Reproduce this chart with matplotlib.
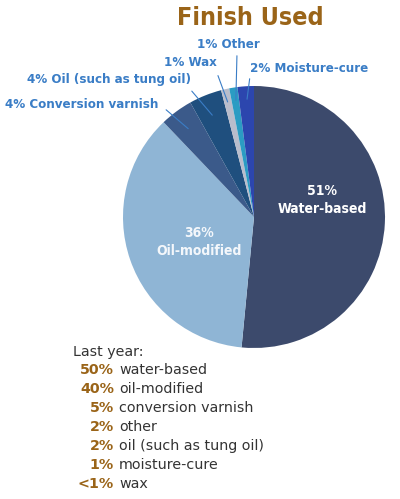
import numpy as np
import matplotlib
matplotlib.use("Agg")
from matplotlib import pyplot as plt

# data
names = ["Water-based", "Oil-modified", "Conversion varnish", "Oil (such as tung oil)",
         "Wax", "Other", "Moisture-cure"]
shares = [51, 36, 4, 4, 1, 1, 2]
colors = ["#3c4a6c", "#8fb5d5", "#3b5a8a", "#1f4f7e", "#b9bdcc", "#2b9cc3", "#2c46ae"]

last_pct = ["50%", "40%", "5%", "2%", "2%", "1%", "<1%"]
last_names = ["water-based", "oil-modified", "conversion varnish", "other",
              "oil (such as tung oil)", "moisture-cure", "wax"]

W, H = 400, 499
fig = plt.figure(figsize=(4, 4.99), dpi=100)
plt.rcParams['font.family'] = ['DejaVu Sans']

def fx(x):
    return x / W

def fy(y):
    return 1 - y / H

# pie axes: centre (254, 217), radius 131 px
cx, cy, r = 254, 217, 131
ax = fig.add_axes([fx(cx - r), fy(cy + r), 2 * r / W, 2 * r / H])
wedges, _ = ax.pie(shares, colors=colors, startangle=90, counterclock=False,
                   wedgeprops=dict(linewidth=0))
ax.set_xlim(-1, 1)
ax.set_ylim(-1, 1)
ax.axis('off')

fig.text(fx(250), fy(18), "Finish Used", color="#9a6418", fontsize=18,
         fontweight='bold', ha='center', va='center', fontstretch='condensed')

# inner labels
ax.text(0.52, 0.13, "51%\nWater-based", color='white', fontsize=10, fontweight='bold',
        ha='center', va='center', linespacing=1.4, fontstretch='condensed')
ax.text(-0.42, -0.19, "36%\nOil-modified", color='#f4f7fb', fontsize=10, fontweight='bold',
        ha='center', va='center', linespacing=1.4, fontstretch='condensed')

# outer labels with leader lines
blue = "#3a7dc6"
outer = {
    2: ("4% Conversion varnish", (5, 104), 'left'),
    3: ("4% Oil (such as tung oil)", (27, 80), 'left'),
    4: ("1% Wax", (164, 63), 'left'),
    5: ("1% Other", (197, 44), 'left'),
    6: ("2% Moisture-cure", (250, 68), 'left'),
}
starts = {2: (164, 108), 3: (190, 89), 4: (217, 73), 5: (237, 53), 6: (250, 76)}
for i, (txt, (x, y), ha) in outer.items():
    w = wedges[i]
    ang = np.deg2rad((w.theta1 + w.theta2) / 2)
    rr = 0.82 if i < 4 else 0.88
    fig.text(fx(x), fy(y), txt, color=blue, fontsize=9.5, fontweight='bold',
             ha=ha, va='center', fontstretch='condensed')
    sx, sy = starts[i]
    ax.annotate("", xy=(rr * np.cos(ang), rr * np.sin(ang)), xycoords='data',
                xytext=(fx(sx), fy(sy)), textcoords='figure fraction',
                arrowprops=dict(arrowstyle='-', color=blue, lw=0.8))

# last year list
fig.text(fx(73), fy(352), "Last year:", color="#333333", fontsize=10.3, ha='left', va='center')
for k, (p, n) in enumerate(zip(last_pct, last_names)):
    y = 370 + k * 19
    fig.text(fx(114), fy(y), p, color="#9a6418", fontsize=10.3, fontweight='bold',
             ha='right', va='center')
    fig.text(fx(119), fy(y), n, color="#333333", fontsize=10.3, ha='left', va='center')

fig.savefig("out.png", dpi=100)
